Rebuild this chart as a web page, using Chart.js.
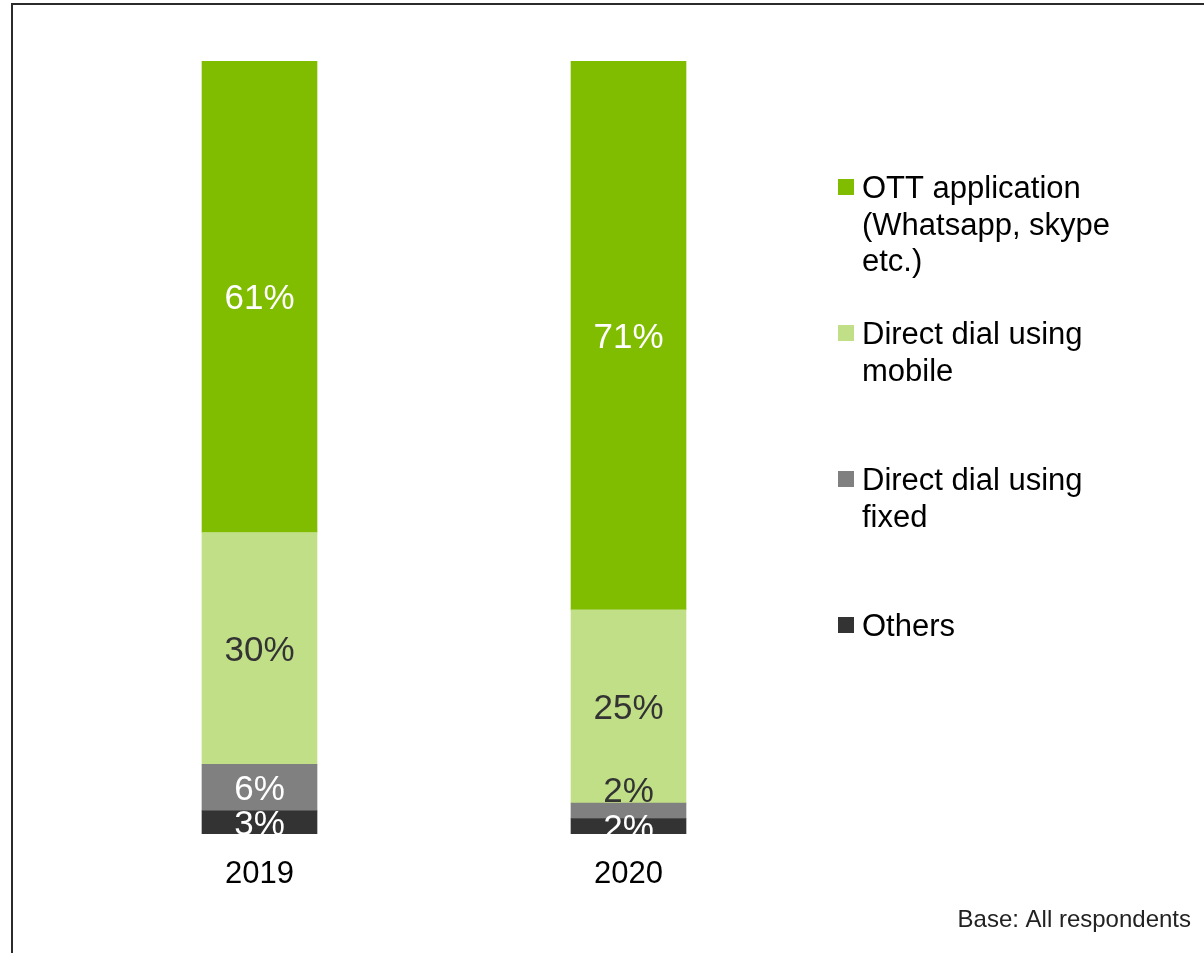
<!DOCTYPE html>
<html>
<head>
<meta charset="utf-8">
<script src="https://cdn.jsdelivr.net/npm/chart.js@4/dist/chart.umd.min.js"></script>
<style>
  html, body { margin: 0; padding: 0; background: #fff; }
  #wrap { position: relative; width: 1204px; height: 953px; }
</style>
</head>
<body>
<div id="wrap"><canvas id="chart" width="1204" height="953"></canvas></div>
<script>
// ---- data ----
const years = ['2019', '2020'];
const ottApp = [61, 71];
const directMobile = [30, 25];
const directFixed = [6, 2];
const others = [3, 2];

const seriesNames = [
  ['OTT application', '(Whatsapp, skype', 'etc.)'],
  ['Direct dial using', 'mobile'],
  ['Direct dial using', 'fixed'],
  ['Others']
];
const seriesColors = ['#80bc00', '#c1df87', '#808080', '#333333'];
const labelColors = ['#ffffff', '#333333', '#ffffff', '#ffffff'];
const baseNote = 'Base: All respondents';

const FONT = "'Liberation Sans', Arial, sans-serif";

// white page + the frame line on the left/top
const framePlugin = {
  id: 'frame',
  beforeDraw(chart) {
    const ctx = chart.ctx;
    ctx.save();
    ctx.fillStyle = '#fff';
    ctx.fillRect(0, 0, chart.width, chart.height);
    ctx.strokeStyle = '#2b2b2b';
    ctx.lineWidth = 2;
    ctx.beginPath();
    ctx.moveTo(12, chart.height);
    ctx.lineTo(12, 4);
    ctx.lineTo(chart.width, 4);
    ctx.stroke();
    ctx.restore();
  }
};

// percentage labels centred in each segment, clipped to the plot area
const segLabels = {
  id: 'segLabels',
  afterDatasetsDraw(chart, args, opts) {
    const ctx = chart.ctx;
    const area = chart.chartArea;
    ctx.save();
    ctx.beginPath();
    ctx.rect(area.left, area.top, area.right - area.left, area.bottom - area.top);
    ctx.clip();
    ctx.font = '35px ' + FONT;
    ctx.textAlign = 'center';
    ctx.textBaseline = 'middle';
    chart.data.datasets.forEach((ds, di) => {
      const meta = chart.getDatasetMeta(di);
      meta.data.forEach((bar, i) => {
        let y = (bar.y + bar.base) / 2 + 3;
        let color = labelColors[di];
        const s = (opts.shifts || []).find(o => o.dataset === di && o.index === i);
        if (s) { y += s.dy; color = s.color; }
        ctx.fillStyle = color;
        ctx.fillText(ds.data[i] + '%', bar.x, y);
      });
    });
    ctx.restore();
  }
};

// legend on the right with wrapped entries, plus the base note
const sideLegend = {
  id: 'sideLegend',
  afterDraw(chart, args, opts) {
    const ctx = chart.ctx;
    ctx.save();
    ctx.font = '31px ' + FONT;
    ctx.textBaseline = 'alphabetic';
    ctx.textAlign = 'left';
    chart.data.datasets.forEach((ds, di) => {
      const base = opts.firstBaseline + di * opts.itemStep;
      ctx.fillStyle = ds.backgroundColor;
      ctx.fillRect(opts.x, base - 19, 16, 16);
      ctx.fillStyle = '#000';
      seriesNames[di].forEach((line, li) => {
        ctx.fillText(line, opts.x + 24, base + li * opts.lineHeight);
      });
    });
    ctx.font = '24px ' + FONT;
    ctx.textAlign = 'right';
    ctx.fillStyle = '#222';
    ctx.fillText(baseNote, 1191, 927);
    ctx.restore();
  }
};

// series order = legend order; 'order' puts Others at the base of each stack
const datasets = [ottApp, directMobile, directFixed, others].map((vals, i) => ({
  label: seriesNames[i].join(' '),
  data: vals,
  backgroundColor: seriesColors[i],
  borderWidth: 0,
  barThickness: 115,
  order: 3 - i
}));

new Chart(document.getElementById('chart'), {
  type: 'bar',
  data: {
    labels: years,
    datasets: datasets
  },
  plugins: [framePlugin, segLabels, sideLegend],
  options: {
    responsive: false,
    animation: false,
    layout: { padding: { left: 75, right: 391, top: 61, bottom: 0 } },
    scales: {
      x: {
        stacked: true,
        grid: { display: false, drawTicks: false },
        border: { display: false },
        ticks: { color: '#000', font: { family: FONT, size: 31 }, padding: 22 },
        afterFit(scale) { scale.height = 119; }
      },
      y: {
        stacked: true,
        display: false,
        min: 0,
        max: 100
      }
    },
    plugins: {
      legend: { display: false },
      tooltip: { enabled: false },
      segLabels: {
        // the small 2020 "fixed" label sits just above its segment in the source
        shifts: [{ dataset: 2, index: 1, dy: -21, color: '#333333' }]
      },
      sideLegend: { x: 838, firstBaseline: 198, itemStep: 146, lineHeight: 36.5 }
    }
  }
});
</script>
</body>
</html>
